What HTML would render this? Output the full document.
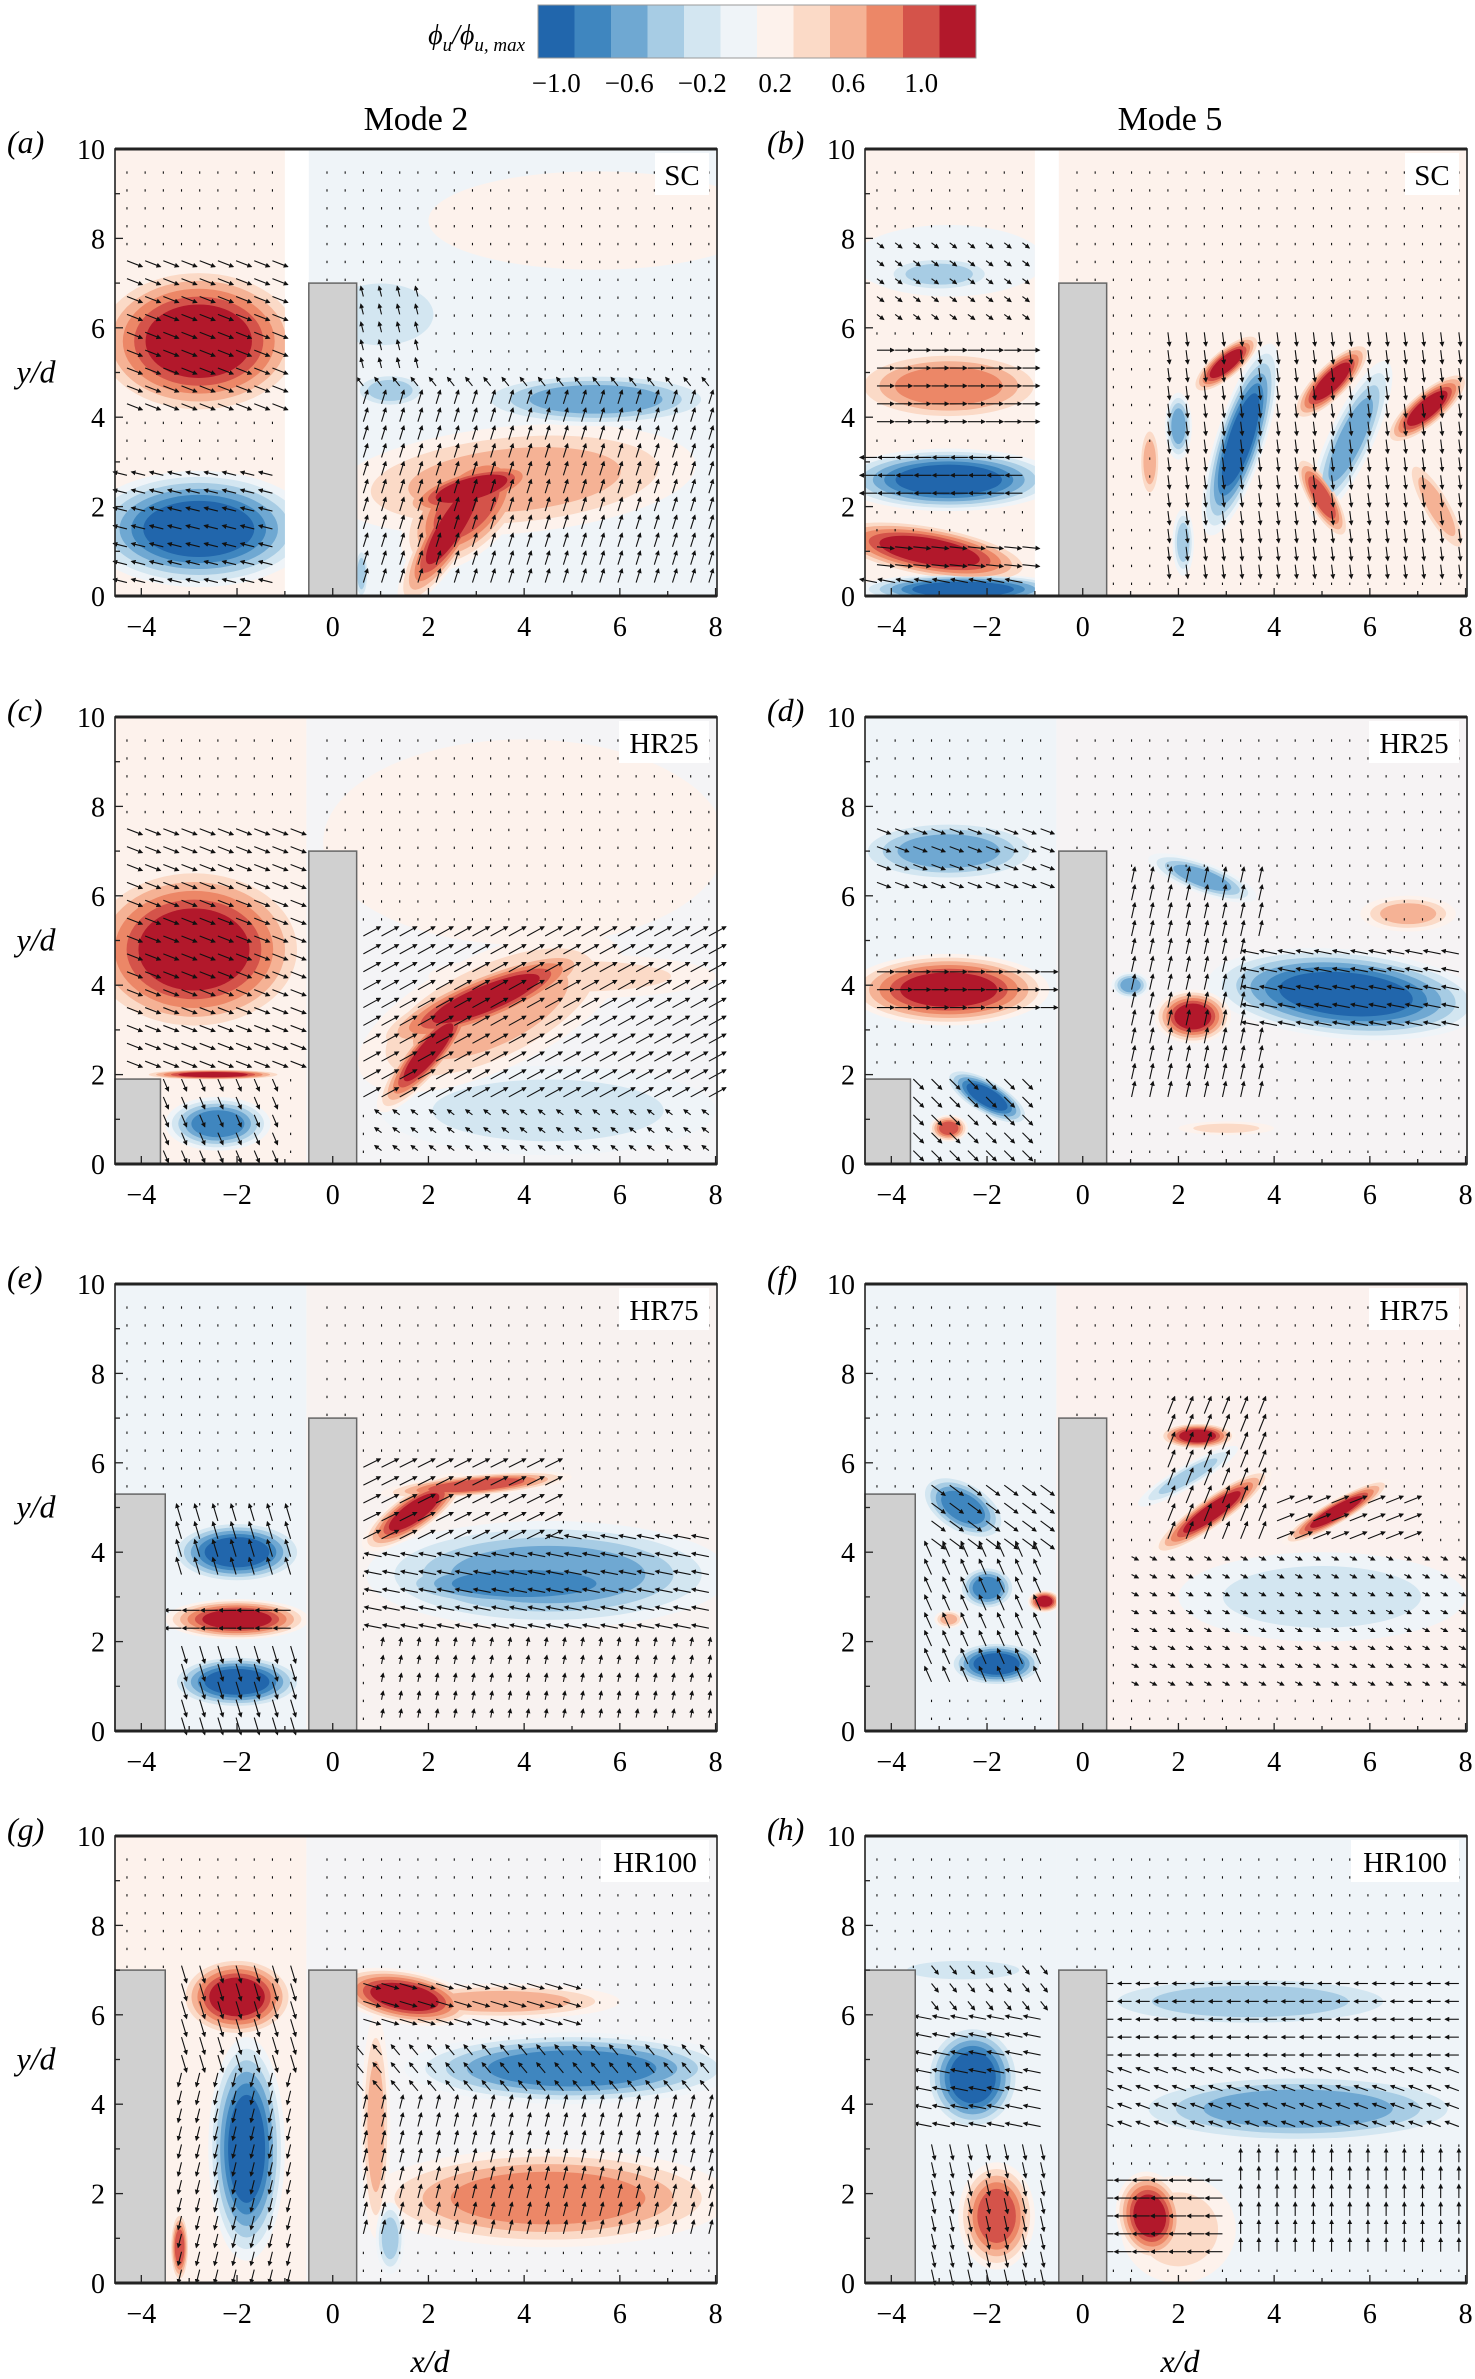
<!DOCTYPE html>
<html><head><meta charset="utf-8">
<style>
html,body{margin:0;padding:0;background:#fff;}
svg{display:block;font-family:"Liberation Serif",serif;}
</style></head>
<body>
<svg id="fig" width="1475" height="2379" viewBox="0 0 1475 2379" xmlns="http://www.w3.org/2000/svg">
<defs>
<marker id="ah" markerWidth="5" markerHeight="5" refX="4" refY="2.5" orient="auto" markerUnits="userSpaceOnUse"><path d="M0,0 L5,2.5 L0,5 z" fill="#111"/></marker>
</defs>
</svg>
<script>
const NS="http://www.w3.org/2000/svg";
const svg=document.getElementById('fig');
// ---- data arrays ----
const levelColors=["#2166ac","#3f86bf","#6fa8d2","#a7cce4","#d3e6f1","#eff4f8","#fdf2ec","#fbdac7","#f5b295","#ec8767","#d4534a","#b2182b"];
const colorbarLabels=["\u22121.0","\u22120.6","\u22120.2","0.2","0.6","1.0"];
const colorbarLabelPos=[0.5,2.5,4.5,6.5,8.5,10.5];
const xTicks=[-4,-2,0,2,4,6,8];
const yTicks=[0,2,4,6,8,10];
const xRange=[-4.55,8.03];
const yRange=[0,10];
const panelLetters=["a","b","c","d","e","f","g","h"];
const caseLabels=["SC","SC","HR25","HR25","HR75","HR75","HR100","HR100"];
const upstreamH=[0,0,1.9,1.9,5.3,5.3,7,7];
const upstreamRight=[null,null,-3.6,-3.6,-3.5,-3.5,-3.5,-3.5];
const splitX=[[-1.0,-0.5],[-1.0,-0.5],[-0.55,-0.55],[-0.55,-0.55],[-0.55,-0.55],[-0.55,-0.55],[-0.55,-0.55],[-0.55,-0.55]];
const bgL=["#fdf2ec","#fdf2ec","#fdf2ec","#eff4f8","#eff4f8","#eff4f8","#fdf2ec","#eff4f8"];
const bgR=["#eff4f8","#fdf2ec","#f4f4f6","#f6f3f4","#f8f2f0","#fbf1ee","#f4f4f6","#eff4f8"];
// blobs: [region, x, y, rx, ry, angle, level]
const blobs0=[["L",-2.8,5.7,2.3,1.7,0,1],["L",-2.8,1.5,2.4,1.3,0,-1],["R",5.5,8.4,3.5,1.1,0,0.15],["R",1.0,6.3,1.6,1,0,-0.2],["R",3.8,2.6,3.8,1.2,5,0.5],["R",2.8,2.0,1.7,1.0,45,0.8],["R",2.5,1.6,2.0,0.55,58,1],["R",2.9,2.4,1.6,0.5,15,0.9],["R",5.5,4.4,2.6,0.6,0,-0.6],["R",1.2,4.6,0.8,0.4,0,-0.4],["R",0.6,0.5,0.15,0.6,0,-0.5]];
const blobs1=[["L",-2.8,7.5,2,0.8,0,-0.15],["L",-3,7.2,1.2,0.4,0,-0.35],["L",-2.8,4.7,2.1,0.8,0,0.6],["L",-2.8,2.6,2.3,0.7,0,-0.9],["L",-3.2,1.0,2.2,0.6,-10,1],["L",-2.5,0.15,2.2,0.35,0,-0.9],["R",3.0,5.2,0.9,0.34,40,1],["R",3.3,3.5,2.1,0.55,72,-1],["R",5.2,4.8,1.1,0.4,45,1],["R",5.6,3.5,1.8,0.5,65,-0.6],["R",7.2,4.2,1.1,0.4,40,0.9],["R",5.0,2.2,1.0,0.34,-60,0.8],["R",7.4,2.0,1.2,0.34,-60,0.5],["R",2.0,3.8,0.7,0.3,90,-0.6],["R",2.1,1.2,0.7,0.24,90,-0.4],["R",1.4,3.0,0.8,0.24,90,0.4]];
const blobs2=[["L",-2.9,4.8,2.4,1.9,0,1],["L",-2.4,0.9,1.1,0.6,0,-0.8],["L",-2.5,2.0,1.5,0.12,0,0.9],["R",4,7.2,4.2,2.3,0,0.12],["R",4.5,1.2,3.5,1,0,-0.2],["R",3.3,3.4,3.0,1.3,25,0.5],["R",5,4.2,3,0.5,0,0.3],["R",2.0,2.5,1.6,0.45,50,1],["R",3.2,3.7,2.5,0.6,22,1]];
const blobs3=[["L",-2.8,7.0,2,0.7,0,-0.6],["L",-2.8,3.9,2.1,0.8,0,1],["L",-2.0,1.5,1,0.4,-30,-0.9],["L",-2.8,0.8,0.4,0.3,0,0.8],["R",5.5,3.8,2.9,1.0,-5,-1],["R",2.3,3.3,0.8,0.6,0,1],["R",1.0,4.0,0.4,0.3,0,-0.6],["R",2.5,6.4,1.2,0.35,-20,-0.6],["R",6.8,5.6,1.0,0.4,0,0.5],["R",3,0.8,1,0.15,0,0.2]];
const blobs4=[["L",-2.0,4.0,1.4,0.7,0,-1],["L",-2.0,2.5,1.5,0.45,0,1],["L",-2.0,1.1,1.4,0.6,0,-0.9],["R",4.5,3.5,3.8,1.2,0,-0.6],["R",4.0,3.3,3,0.6,0,-0.8],["R",1.7,4.9,1.3,0.45,35,1],["R",3,5.5,2,0.25,5,0.8]];
const blobs5=[["L",-2.5,5.0,1,0.6,-30,-0.8],["L",-2,3.2,0.6,0.5,0,-0.7],["L",-1.8,1.5,1,0.5,0,-0.9],["L",-0.8,2.9,0.35,0.25,0,1],["L",-2.8,2.5,0.3,0.2,0,0.4],["R",5,3,3,1,0,-0.2],["R",2.2,5.7,1.2,0.25,30,-0.5],["R",2.4,6.6,0.8,0.3,0,1],["R",2.7,4.9,1.5,0.35,35,1],["R",5.3,4.9,1.3,0.28,30,1]];
const blobs6=[["L",-2.0,6.4,1.2,0.9,0,1],["L",-1.8,3.0,0.8,2.5,0,-1],["L",-3.2,0.8,0.2,0.8,0,0.7],["R",4.5,1.9,3.8,1.1,0,0.6],["R",5,4.8,3.5,0.8,0,-0.7],["R",0.9,3.5,0.3,2.5,0,0.4],["R",1.2,1.0,0.3,0.8,0,-0.4],["R",3.5,6.3,2.5,0.4,0,0.5],["R",1.5,6.4,1.5,0.6,-10,1]];
const blobs7=[["L",-2.5,7.0,1.7,0.3,0,-0.3],["L",-2.3,4.6,1,1.2,0,-1],["L",-1.8,1.5,0.8,1.2,0,0.7],["R",3.5,6.3,3.5,0.6,0,-0.5],["R",4.5,3.9,3.7,0.8,0,-0.6],["R",2,1.2,1.2,1.2,0,0.3],["R",1.4,1.5,0.7,1.0,10,1]];
const allBlobs=[blobs0,blobs1,blobs2,blobs3,blobs4,blobs5,blobs6,blobs7];
// quiver zones: [x0,x1,y0,y1,ux,uy]
const quiver0=[[-4.6,-1,4,7.6,0.9,-0.35],[-4.6,-1,0.3,2.8,-0.8,0.2],[0.6,8.1,0,4.3,0.25,0.8],[0.6,8.1,4.3,5,-0.4,0.5],[0.5,2,5,7,-0.15,0.6]];
const quiver1=[[-4.6,-1,3.8,5.6,1,0],[-4.6,-1,2,3.4,-1,0],[-4.6,-1,0.5,1.4,1,-0.1],[-4.6,-1,0,0.5,-1,0.2],[-4.6,-1,6,8,0.4,-0.3],[1.5,8.1,0.5,6,0.1,-0.8]];
const quiver2=[[-4.6,-0.5,2.2,7.6,0.9,-0.35],[-3.6,-1,0,2,0.3,-0.7],[0.6,8.1,1.5,5.5,1,0.55],[1,8.1,0,1.5,-0.4,0.3]];
const quiver3=[[-4.6,-0.5,6,7.8,0.8,-0.3],[-4.6,-0.5,3.3,4.5,1,0],[-3.6,-1,0.3,2,0.6,-0.6],[3.5,8.1,2.8,4.8,-1,0.2],[1,4,1.5,6.5,0.2,0.9]];
const quiver4=[[-3.5,-0.5,3.2,4.8,-0.3,1],[-3.5,-0.5,2,3,-1,0],[-3.5,-0.5,0.3,1.9,0.3,-1],[0.6,4.5,4.2,6,1,0.5],[0.8,8.1,2.3,4.6,-1,0.2],[0.8,8.1,0.3,2.3,0.1,0.5]];
const quiver5=[[-3.5,-0.5,4,5.8,0.8,-0.6],[-3.5,-0.5,1,4,-0.4,0.9],[1.5,3.8,4,7.3,0.4,1],[3,7,4,5.5,1,0.4],[1,8.1,1,4,0.4,-0.2]];
const quiver6=[[-3.5,-0.5,5,7.4,0.3,-1],[-3.5,-0.5,0.3,5,-0.2,-0.8],[0.6,5,5.8,7,1,-0.3],[0.6,8.1,4,5.5,-0.5,0.6],[0.6,8.1,1,4,0.2,0.8]];
const quiver7=[[-3.5,-0.5,6.2,7.5,0.4,-0.5],[-3.5,-0.5,3.4,6,-1,0.2],[-3.5,-0.5,0.3,3.4,0.2,-0.9],[0.6,8.1,5,7,-0.8,0],[0.6,8.1,3.3,5,-0.8,0.3],[0.6,3,0.5,2.5,-1,0],[3,8.1,0.5,3,0,0.8]];
const allQuiver=[quiver0,quiver1,quiver2,quiver3,quiver4,quiver5,quiver6,quiver7];

// ---- layout ----
const colX=[115,865], rowY=[149,717,1284,1836], PW=602, PH=447;
function el(tag,attrs,parent){const e=document.createElementNS(NS,tag);for(const k in attrs)e.setAttribute(k,attrs[k]);(parent||svg).appendChild(e);return e;}
function txt(s,x,y,size,anchor,parent,style){const t=el('text',{x:x,y:y,'font-size':size,'text-anchor':anchor||'middle'},parent);if(style)t.setAttribute('font-style',style);t.textContent=s;return t;}

const cb=el('g',{});


const cbX=538,cbW=438,cbY=5,cbH=53;
levelColors.forEach((c,i)=>{const r=el('rect',{x:cbX+i*cbW/12,y:cbY,width:cbW/12+0.5,height:cbH,fill:c},cb);

});
el('rect',{x:cbX,y:cbY,width:cbW,height:cbH,fill:'none',stroke:'#999','stroke-width':1},cb);
colorbarLabels.forEach((s,i)=>{const t=txt(s,cbX+colorbarLabelPos[i]*cbW/12,92,27,'middle',cb);

});
const cbt=el('text',{x:525,y:44,'font-size':28,'text-anchor':'end','font-style':'italic'},cb);


cbt.innerHTML='\u03d5<tspan font-size="19" dy="7">u</tspan><tspan dy="-7">/\u03d5</tspan><tspan font-size="19" dy="7">u, max</tspan>';

const m2=txt('Mode 2',416,130,34,'middle');
const m5=txt('Mode 5',1170,130,34,'middle');

function levelBands(L){return Math.max(1,Math.min(6,Math.ceil(Math.abs(L)*6-0.001)));}

for(let p=0;p<8;p++){
  const ox=colX[p%2], oy=rowY[Math.floor(p/2)];
  const sx=x=>ox+(x-xRange[0])/(xRange[1]-xRange[0])*PW;
  const sy=y=>oy+PH-(y-yRange[0])/(yRange[1]-yRange[0])*PH;
  const kx=PW/(xRange[1]-xRange[0]), ky=PH/(yRange[1]-yRange[0]);
  const g=el('g',{});
  
  
  const sp=splitX[p];
  const cl='clL'+p, cr='clR'+p;
  const defs=el('defs',{},g);
  const cL=el('clipPath',{id:cl},defs); el('rect',{x:ox,y:oy,width:sx(sp[0])-ox,height:PH},cL);
  const cR=el('clipPath',{id:cr},defs); el('rect',{x:sx(sp[1]),y:oy,width:ox+PW-sx(sp[1]),height:PH},cR);
  el('rect',{x:ox,y:oy,width:PW,height:PH,fill:'#fff'},g);
  const gL=el('g',{'clip-path':'url(#'+cl+')'},g);
  
  
  const gR=el('g',{'clip-path':'url(#'+cr+')'},g);
  
  
  el('rect',{x:ox,y:oy,width:PW,height:PH,fill:bgL[p]},gL);
  el('rect',{x:ox,y:oy,width:PW,height:PH,fill:bgR[p]},gR);
  const bands=[];
  allBlobs[p].forEach(b=>{
    const [reg,x,y,rx,ry,ang,L]=b;
    const n=levelBands(L);
    for(let i=1;i<=n;i++){bands.push({reg,x,y,rx,ry,ang,L,i,n});}
  });
  bands.sort((a,b)=>a.i-b.i);
  bands.forEach(o=>{
    const tgt=o.reg==='L'?gL:gR;
    const cx=sx(o.x), cy=sy(o.y);
    const s=1-(o.i-1)/o.n*0.62;
    const ci=o.L>0?5+o.i:6-o.i;
    const e=el('ellipse',{cx:cx,cy:cy,rx:o.rx*kx*s,ry:o.ry*ky*s,fill:levelColors[ci],transform:'rotate('+(-o.ang)+' '+cx+' '+cy+')'},tgt);
    
    
  });
  const qg=el('g',{stroke:'#111','stroke-width':1.1},g);
  
  
  const zones=allQuiver[p];
  for(let gx=xRange[0]+0.25; gx<xRange[1]-0.1; gx+=0.38){
    if(gx>sp[0]-0.1 && gx<sp[1]+0.05) continue;
    for(let gy=0.3; gy<9.9; gy+=0.4){
      if(gx>-0.55&&gx<0.55&&gy<7.05) continue;
      if(upstreamRight[p]!==null && gx<upstreamRight[p] && gy<upstreamH[p]) continue;
      let v=[0,-0.12],big=false;
      for(const z of zones){if(gx>=z[0]&&gx<=z[1]&&gy>=z[2]&&gy<=z[3]){v=[z[4],z[5]];big=true;break;}}
      const L=big?17:20;
      const x1=sx(gx), y1=sy(gy), x2=x1+v[0]*L, y2=y1-v[1]*L;
      const a=el('line',{x1:x1,y1:y1,x2:x2,y2:y2},qg);
      if(big) a.setAttribute('marker-end','url(#ah)');
      
      
    }
  }
  const bd=el('rect',{x:sx(-0.5),y:sy(7),width:sx(0.5)-sx(-0.5),height:sy(0)-sy(7),fill:'#d0d0d0',stroke:'#666','stroke-width':1.5},g);
  
  
  if(upstreamRight[p]!==null){
    const ub=el('rect',{x:ox,y:sy(upstreamH[p]),width:sx(upstreamRight[p])-ox,height:sy(0)-sy(upstreamH[p]),fill:'#d0d0d0',stroke:'#666','stroke-width':1.5},g);
    
    
  }
  el('rect',{x:ox,y:oy,width:PW,height:PH,fill:'none',stroke:'#222','stroke-width':1.6},g);
  el('line',{x1:ox,y1:oy,x2:ox+PW,y2:oy,stroke:'#222','stroke-width':3},g);
  el('line',{x1:ox,y1:oy+PH,x2:ox+PW,y2:oy+PH,stroke:'#222','stroke-width':3},g);
  for(let t=-4;t<=8;t++){el('line',{x1:sx(t),y1:oy+PH,x2:sx(t),y2:oy+PH-(t%2===0?8:5),stroke:'#222','stroke-width':1.3},g);}
  for(let t=0;t<=10;t++){el('line',{x1:ox,y1:sy(t),x2:ox+(t%2===0?8:5),y2:sy(t),stroke:'#222','stroke-width':1.3},g);}
  xTicks.forEach(t=>{const s=txt(t<0?'\u2212'+(-t):String(t),sx(t),oy+PH+40,28,'middle',g);
    
    });
  yTicks.forEach(t=>{const s=txt(String(t),ox-10,sy(t)+10,28,'end',g);
    
    });
  const bw=caseLabels[p].length*18+18;
  const lb=el('rect',{x:ox+PW-bw-8,y:oy+4,width:bw,height:42,fill:'#fff'},g);
  
  
  const ct=txt(caseLabels[p],ox+PW-8-bw/2,oy+36,29,'middle',g);
  
  
  const pl=txt('('+panelLetters[p]+')',ox-(p%2?98:108),oy+4,32,'start',g,'italic');
  
  
  if(p%2===0){const yl=el('text',{x:36,y:sy(5)+10,'font-size':32,'text-anchor':'middle','font-style':'italic'},g);
    yl.textContent='y/d';
    
    }
  if(p>=6){const xl=el('text',{x:ox+PW/2+14,y:2372,'font-size':32,'text-anchor':'middle','font-style':'italic'},g);
    xl.textContent='x/d';
    
    }
}
</script>
</body></html>
